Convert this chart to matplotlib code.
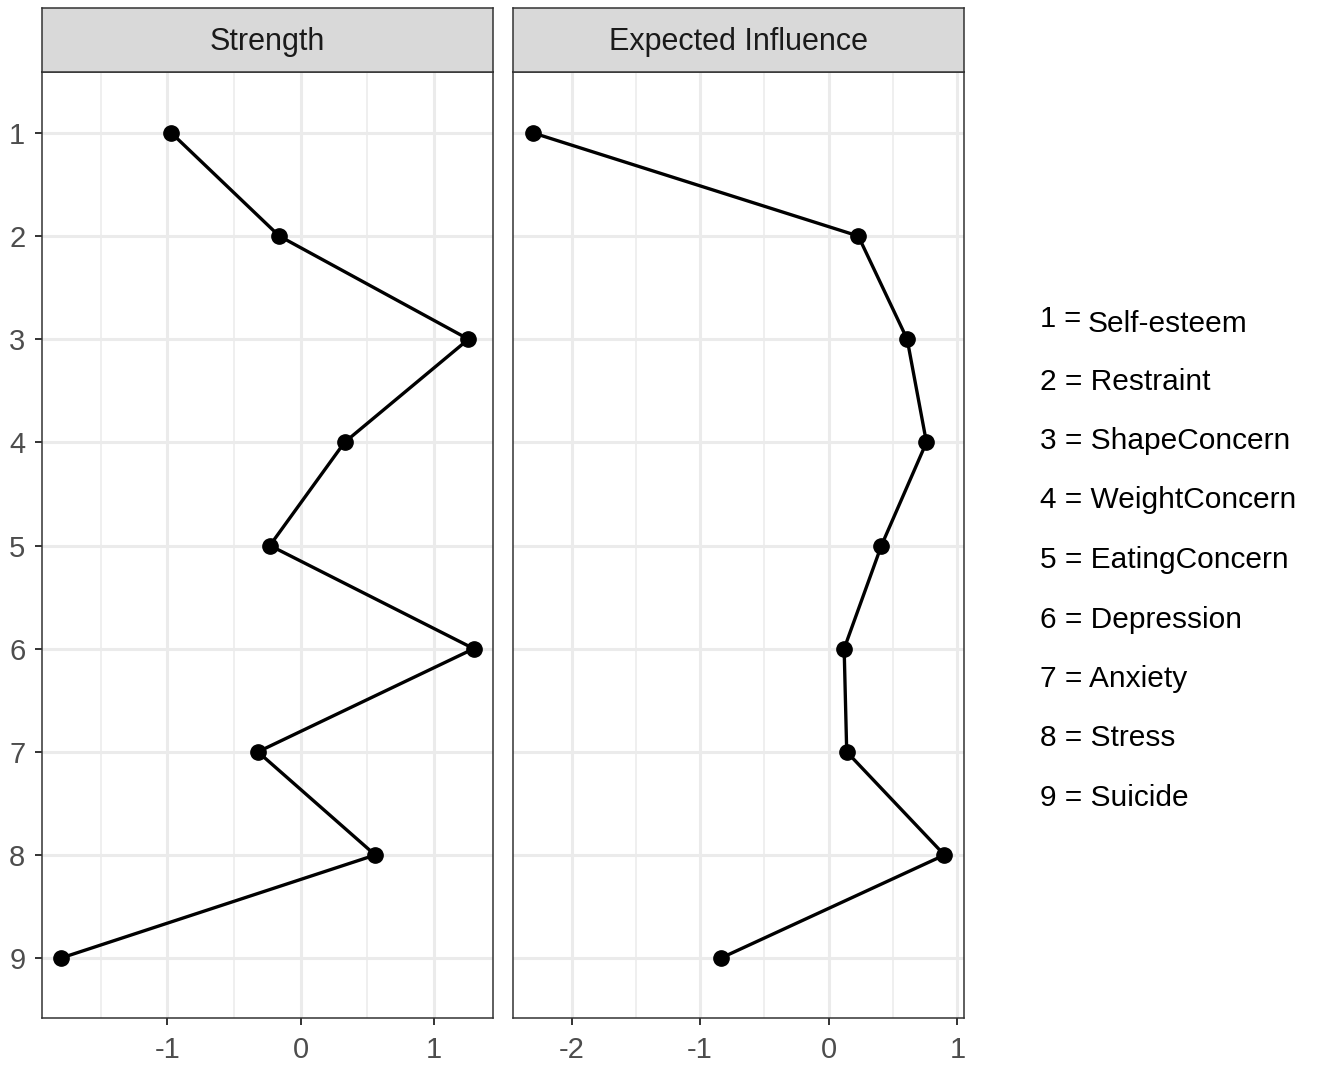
import matplotlib
matplotlib.use('Agg')
import matplotlib.pyplot as plt
from matplotlib.ticker import MultipleLocator

plt.rcParams['font.family'] = ['Liberation Sans', 'DejaVu Sans']

# centrality estimates per node
nodes = [1, 2, 3, 4, 5, 6, 7, 8, 9]
strength = [-0.97, -0.16, 1.26, 0.33, -0.23, 1.30, -0.32, 0.56, -1.80]
expected_influence = [-2.30, 0.23, 0.61, 0.76, 0.41, 0.12, 0.14, 0.90, -0.84]
node_names = ['Self-esteem', 'Restraint', 'ShapeConcern', 'WeightConcern',
              'EatingConcern', 'Depression', 'Anxiety', 'Stress', 'Suicide']

panels = [('Strength', strength, (-1.94, 1.444)),
          ('Expected Influence', expected_influence, (-2.455, 1.052))]

W, H = 1319, 1066
fig = plt.figure(figsize=(W / 100, H / 100), dpi=100)

lefts = [42, 513]
pw = 451
top, bottom = 72, 1018
strip_top = 8
frame_col = '#333333'
grid_col = '#EBEBEB'
fs = 21

for i, (title, vals, xlim) in enumerate(panels):
    x0 = lefts[i]
    ax = fig.add_axes([x0 / W, (H - bottom) / H, pw / W, (bottom - top) / H])
    ax.plot(vals, nodes, color='black', lw=2.4, marker='o', ms=11,
            zorder=3, clip_on=False)
    ax.set_xlim(*xlim)
    ax.set_ylim(9.58, 0.41)
    ax.xaxis.set_major_locator(MultipleLocator(1))
    ax.xaxis.set_minor_locator(MultipleLocator(0.5))
    ax.set_yticks(nodes)
    ax.grid(which='major', color=grid_col, lw=2.2, zorder=0)
    ax.grid(which='minor', axis='x', color=grid_col, lw=1.1, zorder=0)
    ax.set_axisbelow(True)
    for s in ax.spines.values():
        s.set_color(frame_col)
        s.set_linewidth(1.1)
    ax.tick_params(which='major', length=5, width=1.4, color=frame_col,
                   labelsize=fs, labelcolor='#4D4D4D')
    ax.tick_params(axis='x', pad=8)
    ax.tick_params(axis='y', pad=7)
    ax.tick_params(which='minor', length=0)
    ax.set_xticklabels([f'{t:g}' for t in ax.get_xticks()])
    if i > 0:
        ax.tick_params(axis='y', length=0, labelleft=False)

    sax = fig.add_axes([x0 / W, (H - top) / H, pw / W, (top - strip_top) / H])
    sax.set_facecolor('#D9D9D9')
    sax.set_xticks([])
    sax.set_yticks([])
    for s in sax.spines.values():
        s.set_color(frame_col)
        s.set_linewidth(1.1)
    sax.text(0.5, 0.47, title, ha='center', va='center', fontsize=fs + 1,
             color='#1A1A1A', transform=sax.transAxes)

# node legend on the right
y_first, y_step = 322, 59.5
for k, name in zip(nodes, node_names):
    y = 1 - (y_first + (k - 1) * y_step) / H
    if k == 1:
        fig.text(1040 / W, y + 3 / H, f'{k} =', fontsize=fs, color='black',
                 va='center', ha='left')
        fig.text(1088 / W, y - 2 / H, name, fontsize=fs + 0.5, color='black',
                 va='center', ha='left')
    else:
        fig.text(1040 / W, y, f'{k} = {name}', fontsize=fs + 0.5,
                 color='black', va='center', ha='left')

fig.savefig('out.png', dpi=100, facecolor='white')
